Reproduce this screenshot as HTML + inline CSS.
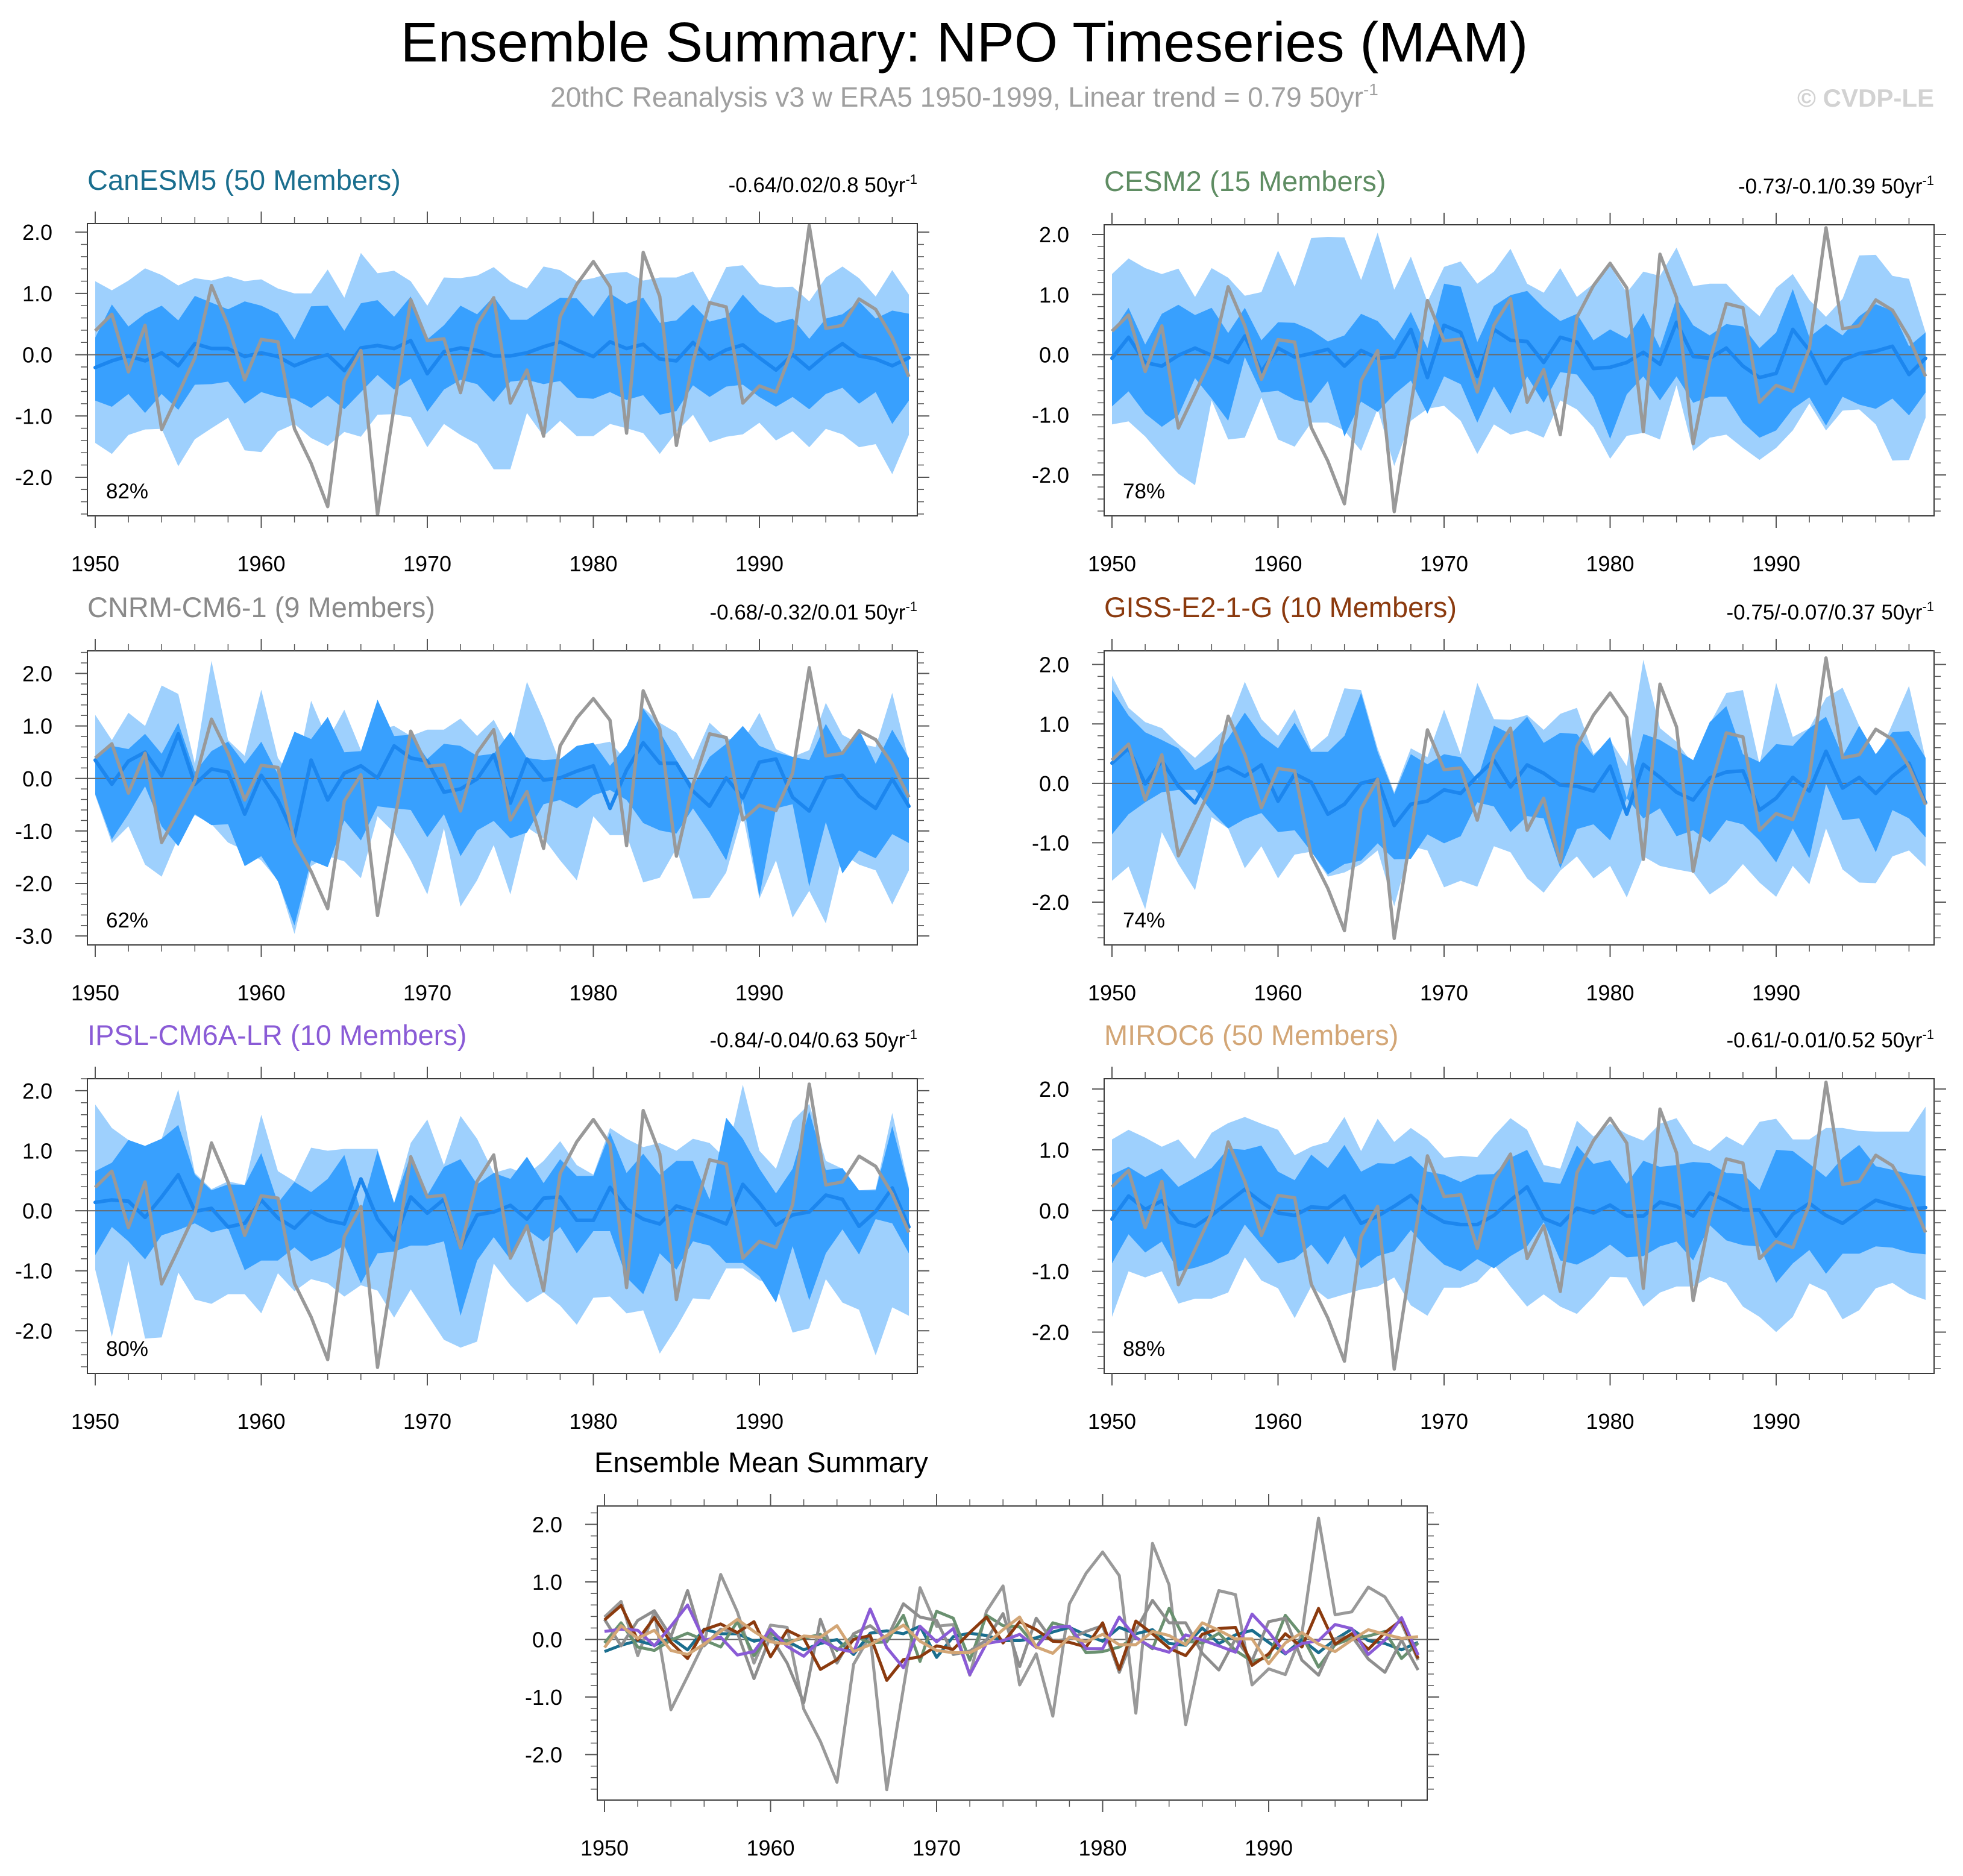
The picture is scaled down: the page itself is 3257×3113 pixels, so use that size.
<!DOCTYPE html>
<html>
<head>
<meta charset="utf-8">
<style>
html,body{margin:0;padding:0;background:#fff;}
svg{display:block;font-family:"Liberation Sans",Arial,sans-serif;}
</style>
</head>
<body>
<svg id="chart" width="3257" height="3113" viewBox="0 0 3257 3113" xmlns="http://www.w3.org/2000/svg">
  <rect x="0" y="0" width="3257" height="3113" fill="#ffffff"/>
  <text x="1600" y="102" text-anchor="middle" font-size="93" fill="#000">Ensemble Summary: NPO Timeseries (MAM)</text>
  <text x="1600" y="177" text-anchor="middle" font-size="46" fill="#a0a0a0">20thC Reanalysis v3 w ERA5 1950-1999, Linear trend = 0.79 50yr<tspan font-size="28" dy="-19">-1</tspan></text>
  <text x="3209" y="177" text-anchor="end" font-size="42" font-weight="bold" fill="#d2d2d2">© CVDP-LE</text>
  <g id="panels"></g>
</svg>
<script>
// ---------- data ----------
const startYear = 1950;
const endYear = 1999;
const years = [];
for (let y = startYear; y <= endYear; y++) years.push(y);

const obs = [0.39,0.66,-0.28,0.48,-1.22,-0.64,-0.05,1.13,0.48,-0.41,0.25,0.21,-1.21,-1.77,-2.48,-0.43,0.07,-2.61,-0.85,0.90,0.23,0.26,-0.62,0.49,0.93,-0.79,-0.25,-1.33,0.62,1.15,1.52,1.11,-1.28,1.67,0.95,-1.48,-0.11,0.85,0.78,-0.79,-0.51,-0.61,0.10,2.11,0.43,0.48,0.91,0.74,0.28,-0.36];

// CanESM5
const canMean = [-0.21,-0.10,-0.02,-0.10,0.03,-0.18,0.18,0.10,0.10,-0.03,0.03,-0.03,-0.18,-0.07,0.00,-0.26,0.11,0.15,0.10,0.23,-0.31,0.05,0.11,0.07,-0.02,-0.02,0.03,0.13,0.21,0.08,-0.03,0.21,0.10,0.17,-0.07,-0.10,0.20,-0.07,0.08,0.16,-0.05,-0.25,0.00,-0.23,0.00,0.18,-0.02,-0.07,-0.18,-0.05];
const canOutHi = [1.20,1.05,1.21,1.41,1.30,1.13,1.25,1.21,1.28,1.20,1.23,1.08,1.00,1.00,1.39,0.93,1.66,1.33,1.37,1.20,0.80,1.26,1.25,1.29,1.43,1.20,1.08,1.44,1.38,1.20,1.25,1.33,1.35,1.21,1.26,1.26,1.36,0.87,1.43,1.46,1.15,1.10,1.11,0.87,1.26,1.44,1.25,0.95,1.38,0.98];
const canInHi = [0.28,0.82,0.46,0.67,0.80,0.56,0.96,0.85,0.74,0.87,0.80,0.67,0.25,0.79,0.80,0.39,0.84,0.89,0.62,0.95,0.25,0.48,0.80,0.66,0.95,0.57,0.57,0.75,0.93,0.92,0.62,1.00,0.83,0.93,0.52,0.56,0.82,0.54,0.61,0.98,0.69,0.52,0.59,0.26,0.59,0.66,0.87,0.59,0.72,0.67];
const canInLo = [-0.75,-0.85,-0.64,-0.95,-0.64,-0.90,-0.49,-0.48,-0.44,-0.80,-0.61,-0.69,-0.72,-0.87,-0.67,-0.89,-0.61,-0.33,-0.57,-0.39,-0.93,-0.57,-0.41,-0.48,-0.77,-0.44,-0.41,-0.48,-0.43,-0.70,-0.72,-0.61,-0.74,-0.66,-0.98,-0.92,-0.50,-0.69,-0.52,-0.49,-0.69,-0.85,-0.69,-0.89,-0.64,-0.54,-0.80,-0.61,-1.13,-0.75];
const canOutLo = [-1.44,-1.62,-1.31,-1.22,-1.21,-1.82,-1.38,-1.20,-1.03,-1.56,-1.59,-1.25,-1.13,-1.36,-1.49,-1.26,-1.34,-0.98,-0.97,-1.02,-1.51,-1.13,-1.31,-1.46,-1.87,-1.87,-0.95,-1.33,-1.08,-1.33,-1.33,-1.13,-1.20,-1.28,-1.62,-1.26,-0.98,-1.43,-1.34,-1.30,-1.11,-1.40,-1.25,-1.51,-1.21,-1.30,-1.51,-1.46,-1.95,-1.31];

// CESM2
const cesmMean = [-0.06,0.29,-0.13,-0.19,-0.01,0.11,-0.01,-0.13,0.31,-0.28,0.11,-0.04,0.02,0.09,-0.19,0.07,-0.06,-0.04,0.42,-0.38,0.49,0.37,-0.36,0.42,0.24,0.22,-0.13,0.29,0.21,-0.23,-0.21,-0.13,0.04,-0.16,0.54,-0.03,-0.06,0.11,-0.19,-0.38,-0.31,0.42,0.07,-0.48,-0.09,0.02,0.06,0.14,-0.33,-0.06];
const cesmOutHi = [1.34,1.60,1.44,1.34,1.43,0.96,1.44,1.28,0.98,1.04,1.73,1.13,1.94,1.96,1.95,1.24,2.03,1.08,1.63,0.88,1.46,1.55,1.18,1.38,1.76,1.18,1.03,1.44,0.96,1.18,1.48,1.03,1.38,1.31,1.78,1.14,1.18,1.18,0.88,0.64,1.11,1.34,0.91,0.63,0.93,1.65,1.66,1.31,1.26,0.37];
const cesmInHi = [0.37,0.78,0.17,0.68,0.83,0.66,0.78,0.36,0.78,0.24,0.54,0.53,0.41,0.22,0.32,0.68,0.56,0.24,0.71,0.11,1.18,1.13,0.21,0.81,0.99,1.06,0.78,0.56,0.68,0.24,0.42,0.27,0.69,0.11,0.94,0.49,0.32,0.51,0.47,0.11,0.37,1.09,0.29,0.51,0.32,0.64,0.84,0.73,0.14,0.37];
const cesmInLo = [-0.86,-0.61,-0.98,-1.20,-1.01,-0.39,-0.73,-1.10,-0.04,-0.63,-0.60,-0.75,-0.80,-0.44,-1.36,-0.78,-0.95,-0.66,-0.43,-0.98,-0.36,-0.49,-1.13,-0.53,-0.98,-0.36,-0.80,-0.29,-0.33,-0.70,-1.40,-0.66,-0.36,-0.76,-0.36,-0.80,-0.70,-0.70,-1.13,-1.38,-1.26,-0.90,-0.71,-1.18,-0.70,-0.83,-0.90,-0.73,-1.01,-0.63];
const cesmOutLo = [-1.16,-1.11,-1.36,-1.68,-1.98,-2.17,-0.76,-1.41,-1.38,-0.71,-1.41,-1.53,-1.13,-1.13,-1.26,-1.60,-0.90,-1.85,-1.10,-0.90,-0.85,-1.10,-1.65,-1.16,-1.33,-1.26,-1.38,-0.76,-0.91,-1.21,-1.73,-1.35,-1.30,-1.41,-0.51,-1.60,-1.38,-1.33,-1.55,-1.75,-1.55,-1.26,-0.81,-1.26,-0.93,-0.91,-1.16,-1.76,-1.75,-1.05];

// CNRM-CM6-1
const cnrmMean = [0.35,-0.11,0.33,0.50,0.05,0.85,-0.11,0.18,0.12,-0.68,0.06,-0.41,-1.10,0.35,-0.41,0.10,0.24,0.01,0.62,0.39,0.33,-0.26,-0.20,-0.01,0.45,-0.47,0.37,-0.03,0.01,0.14,0.24,-0.57,0.16,0.68,0.29,0.29,-0.24,-0.53,0.01,-0.37,0.31,0.37,-0.36,-0.62,0.01,0.06,-0.34,-0.57,-0.01,-0.53];
const cnrmOutHi = [1.21,0.73,1.25,1.00,1.77,1.61,0.28,2.24,0.73,0.43,1.69,0.39,-0.03,1.48,0.73,1.31,0.54,0.93,1.00,0.81,0.93,0.93,1.14,0.81,1.12,0.52,1.84,1.12,0.29,0.62,0.64,0.70,0.33,1.35,1.06,0.87,0.35,1.06,0.77,0.70,1.25,0.56,0.41,0.54,1.44,0.83,0.66,0.60,1.63,0.33];
const cnrmInHi = [0.41,0.62,0.56,0.85,0.47,1.06,0.12,0.52,0.70,0.28,0.70,0.08,0.89,0.75,1.17,0.50,0.52,1.50,0.81,0.83,0.37,0.66,0.62,0.43,0.47,0.89,0.39,0.35,0.37,0.62,0.68,0.24,0.62,1.33,0.89,0.35,-0.15,0.41,0.66,1.00,0.62,0.50,0.41,0.35,1.04,0.49,0.93,0.28,0.93,0.39];
const cnrmInLo = [-0.30,-1.16,-0.68,-0.15,-0.91,-1.29,-0.68,-0.89,-0.87,-1.67,-1.48,-1.96,-2.80,-1.56,-1.69,-0.80,-1.18,-0.53,-0.57,-0.60,-1.12,-0.68,-1.48,-0.99,-0.81,-1.14,-1.03,-0.49,-0.41,-0.57,-0.32,-0.22,-0.41,-0.85,-0.99,-1.05,-0.57,-1.03,-1.56,-0.41,-2.25,-0.57,-0.49,-2.06,-0.83,-1.81,-1.37,-1.52,-1.06,-1.23];
const cnrmOutLo = [-0.32,-1.23,-0.91,-1.64,-1.87,-1.12,-0.70,-0.87,-1.22,-1.37,-1.56,-1.94,-2.96,-1.67,-1.48,-1.58,-1.90,-0.72,-1.03,-1.56,-2.21,-0.95,-2.44,-1.94,-1.27,-2.21,-0.93,-1.14,-1.56,-1.94,-0.72,-1.08,-1.08,-1.98,-1.89,-1.33,-2.29,-2.27,-1.79,-0.68,-2.29,-1.56,-2.65,-2.14,-2.76,-1.44,-1.64,-1.75,-2.40,-1.75];

// GISS-E2-1-G
const gissMean = [0.34,0.59,-0.01,0.38,-0.05,-0.33,0.17,0.27,0.12,0.31,-0.30,0.16,0.02,-0.52,-0.35,0.00,0.07,-0.71,-0.35,-0.30,-0.11,-0.17,0.12,0.39,-0.06,0.31,0.17,-0.03,-0.05,-0.13,0.29,-0.52,0.32,0.10,-0.15,-0.28,0.09,0.19,0.21,-0.45,-0.25,0.10,-0.13,0.54,-0.08,0.10,-0.17,0.12,0.34,-0.33];
const gissOutHi = [1.81,1.27,1.03,0.93,0.66,0.43,0.70,0.97,1.71,1.08,0.80,1.25,0.56,0.80,1.60,1.57,0.59,-0.15,0.59,0.44,1.24,0.49,1.69,1.08,1.07,1.15,0.90,1.17,1.27,0.49,0.73,0.29,2.08,0.93,0.70,0.32,1.00,1.52,1.57,0.32,1.69,0.78,0.93,1.44,1.61,0.97,0.36,1.00,1.64,0.41];
const gissInHi = [1.57,1.14,0.86,0.73,0.59,0.22,0.39,0.76,1.19,0.80,0.59,1.02,0.53,0.53,0.80,1.52,0.53,-0.18,0.49,0.32,0.49,0.44,0.05,0.97,0.83,1.12,0.68,0.85,0.83,0.46,0.78,-0.25,0.83,0.73,0.56,0.39,1.03,1.30,0.49,0.36,0.66,0.63,0.93,1.12,0.46,0.97,0.49,0.86,0.88,0.43];
const gissInLo = [-0.86,-0.52,-0.32,-0.15,-0.11,-0.11,-0.47,-0.76,-0.60,-0.50,-0.82,-0.79,-1.15,-1.53,-1.36,-1.30,-1.01,-1.28,-1.27,-0.86,-1.01,-0.89,-0.32,-0.39,-0.82,-0.55,-0.59,-1.43,-0.77,-0.69,-0.96,-0.25,-0.59,-0.42,-0.89,-0.79,-0.99,-0.62,-0.69,-0.96,-1.33,-0.76,-1.26,-0.01,-0.62,-0.59,-1.16,-0.45,-0.59,-0.91];
const gissOutLo = [-1.64,-1.40,-2.12,-0.82,-1.36,-1.80,-0.57,-0.76,-1.43,-1.06,-1.60,-1.20,-1.15,-1.57,-1.50,-1.36,-1.13,-2.07,-1.06,-1.13,-1.75,-1.64,-1.74,-1.06,-1.16,-1.60,-1.84,-1.47,-1.23,-1.60,-1.39,-1.92,-1.23,-1.39,-1.45,-1.50,-1.87,-1.68,-1.36,-1.67,-1.91,-1.39,-1.70,-0.76,-1.45,-1.67,-1.68,-1.23,-1.13,-1.40];

// IPSL-CM6A-LR
const ipslMean = [0.14,0.18,0.16,-0.11,0.23,0.60,-0.01,0.04,-0.27,-0.21,0.18,-0.12,-0.29,-0.01,-0.16,-0.22,0.53,-0.14,-0.49,0.23,-0.04,0.19,-0.61,-0.07,-0.02,0.09,-0.14,0.21,0.23,-0.16,-0.16,0.39,0.03,-0.14,-0.22,0.08,-0.01,-0.11,-0.22,0.44,0.13,-0.24,-0.07,-0.02,0.26,0.19,-0.26,-0.01,0.38,-0.27];
const ipslOutHi = [1.77,1.38,1.18,1.08,1.20,2.02,0.63,0.36,0.49,0.43,1.60,0.66,0.49,1.05,1.00,1.03,1.03,1.03,0.13,1.13,1.52,0.76,1.58,1.20,0.63,0.71,0.60,0.83,1.16,0.76,0.60,1.38,1.20,1.06,1.13,1.00,1.20,1.13,0.86,2.10,1.00,0.70,1.50,1.78,0.83,0.70,0.34,0.36,1.63,0.39];
const ipslInHi = [0.66,0.80,1.18,1.08,1.20,1.43,0.60,0.34,0.44,0.43,0.96,0.13,0.48,0.31,0.53,0.93,-0.01,1.00,0.13,0.93,0.26,0.73,0.86,0.44,0.63,0.53,0.90,0.46,0.86,0.58,0.58,1.30,0.63,0.95,0.60,0.83,0.83,0.19,1.55,1.20,0.70,0.29,0.70,1.66,0.68,0.71,0.34,0.34,1.41,0.36];
const ipslInLo = [-0.74,-0.27,-0.51,-0.81,-0.41,-0.32,-0.21,-0.36,-0.29,-0.99,-0.83,-0.83,-0.61,-0.84,-0.74,-0.58,-1.21,-0.71,-0.68,-0.58,-0.58,-0.51,-1.75,-0.83,-0.44,-0.81,-0.31,-0.51,-0.27,-0.71,-0.34,-0.34,-1.11,-1.39,-0.71,-0.98,-0.51,-0.58,-0.87,-0.87,-1.09,-1.53,-0.59,-1.49,-0.71,-0.31,-0.73,-0.14,-0.21,-0.71];
const ipslOutLo = [-0.98,-2.10,-0.84,-2.13,-2.11,-1.03,-1.48,-1.55,-1.39,-1.39,-1.71,-1.04,-1.34,-1.14,-1.21,-1.43,-1.24,-1.33,-1.78,-1.31,-1.73,-2.15,-2.28,-2.18,-0.88,-1.24,-1.53,-1.36,-1.58,-1.90,-1.45,-1.43,-1.71,-1.66,-2.38,-1.95,-1.46,-1.48,-0.96,-0.96,-1.16,-1.23,-2.03,-1.96,-1.14,-1.53,-1.65,-2.41,-1.61,-1.75];

// MIROC6
const mirocMean = [-0.14,0.24,0.02,0.16,-0.19,-0.26,-0.08,0.14,0.35,0.14,-0.04,-0.08,0.06,0.04,0.24,-0.21,-0.09,0.07,0.25,-0.03,-0.19,-0.23,-0.23,-0.08,0.17,0.39,-0.13,-0.24,0.04,-0.04,0.09,-0.09,-0.09,0.14,0.07,-0.09,0.29,0.16,0.01,0.01,-0.42,-0.06,0.12,-0.08,-0.21,-0.01,0.17,0.09,0.02,0.05];
const mirocOutHi = [1.17,1.33,1.20,1.05,1.17,0.85,1.28,1.44,1.54,1.43,1.33,0.91,1.05,1.13,1.54,0.98,1.51,1.13,1.36,1.17,0.87,0.90,0.88,1.23,1.52,1.33,0.75,0.69,1.48,1.22,1.43,1.26,1.15,1.43,1.52,1.10,0.98,1.22,1.07,1.46,1.51,1.17,1.17,1.36,1.36,1.31,1.30,1.30,1.30,1.71];
const mirocInHi = [0.59,0.72,0.55,0.69,0.39,0.54,0.70,1.02,1.00,1.07,0.64,0.50,0.92,0.70,1.08,0.64,0.78,0.77,0.90,0.64,0.59,0.47,0.59,0.60,0.87,1.00,0.47,0.44,1.07,0.77,0.83,0.44,0.82,0.72,0.75,0.80,0.78,0.62,0.60,0.34,1.00,0.98,0.77,0.55,0.87,1.08,0.73,0.67,0.60,0.57];
const mirocInLo = [-0.87,-0.39,-0.69,-0.51,-1.00,-0.94,-0.85,-0.71,-0.23,-0.56,-0.87,-0.80,-0.56,-0.89,-0.42,-0.95,-0.75,-0.67,-0.32,-0.64,-0.89,-1.00,-0.80,-0.95,-0.75,-0.59,-0.19,-0.82,-0.89,-0.75,-0.56,-0.77,-0.75,-0.59,-0.51,-0.82,-0.24,-0.49,-0.57,-0.59,-1.19,-0.87,-0.65,-1.04,-0.71,-0.71,-0.59,-0.61,-0.69,-0.72];
const mirocOutLo = [-1.75,-1.00,-1.10,-1.00,-1.53,-1.45,-1.45,-1.35,-0.77,-1.15,-1.28,-1.77,-1.25,-1.46,-1.38,-1.30,-1.25,-1.10,-1.56,-1.73,-1.27,-1.27,-1.17,-0.89,-1.25,-1.58,-1.38,-1.58,-1.70,-1.42,-1.09,-1.10,-1.58,-1.35,-1.25,-1.25,-1.09,-1.19,-1.58,-1.75,-2.00,-1.75,-1.20,-1.33,-1.79,-1.64,-1.28,-1.19,-1.37,-1.47];

// ---------- drawing ----------
const NS = 'http://www.w3.org/2000/svg';
const root = document.getElementById('panels');
const YEAR_PX = 27.55;

function mk(tag, attrs, parent) {
  const e = document.createElementNS(NS, tag);
  for (const k in attrs) e.setAttribute(k, attrs[k]);
  (parent || root).appendChild(e);
  return e;
}
function pts(xs, ys) { return xs.map((x, i) => x.toFixed(1) + ',' + ys[i].toFixed(1)).join(' '); }

function drawAxes(g, P, xScale, yScale) {
  const b = P.box;
  const border = mk('rect', {x: b.x, y: b.y, width: b.w, height: b.h, fill: 'none', stroke: '#3a3a3a', 'stroke-width': 2}, g);
  
  
  const lo = Math.ceil(P.yMin * 5), hi = Math.floor(P.yMax * 5);
  for (let k = lo; k <= hi; k++) {
    const v = k / 5, yy = yScale(v), major = (k % 5 === 0);
    const len = major ? 20 : 11;
    const t1 = mk('line', {x1: b.x - len, x2: b.x, y1: yy, y2: yy, stroke: '#555', 'stroke-width': major ? 2 : 1.5}, g);
    
    
    const t2 = mk('line', {x1: b.x + b.w, x2: b.x + b.w + len, y1: yy, y2: yy, stroke: '#555', 'stroke-width': major ? 2 : 1.5}, g);
    
    
    if (major) {
      const lab = mk('text', {x: b.x - 58, y: yy + 13, 'text-anchor': 'end', 'font-size': 36, fill: '#000'}, g);
      lab.textContent = v.toFixed(1);
      
      
    }
  }
  for (let yr = startYear; yr <= endYear; yr += 2) {
    const xx = xScale(yr), major = ((yr - startYear) % 10 === 0);
    const len = major ? 20 : 11;
    const tb = mk('line', {x1: xx, x2: xx, y1: b.y + b.h, y2: b.y + b.h + len, stroke: '#555', 'stroke-width': major ? 2 : 1.5}, g);
    
    
    const tt = mk('line', {x1: xx, x2: xx, y1: b.y - len, y2: b.y, stroke: '#555', 'stroke-width': major ? 2 : 1.5}, g);
    
    
    if (major) {
      const lab = mk('text', {x: xx, y: b.y + b.h + 92, 'text-anchor': 'middle', 'font-size': 36, fill: '#000'}, g);
      lab.textContent = String(yr);
      
      
    }
  }
}

function makePanel(P) {
  const g = mk('g', {});
  
  
  const b = P.box;
  const xScale = yr => P.x0 + (yr - startYear) * YEAR_PX;
  const yScale = v => b.y + (P.yMax - v) / (P.yMax - P.yMin) * b.h;
  const xs = years.map(xScale);
  const xsRev = xs.slice().reverse();
  const clipId = 'clip-' + P.id;
  const cp = mk('clipPath', {id: clipId}, g);
  mk('rect', {x: b.x, y: b.y, width: b.w, height: b.h}, cp);
  const plot = mk('g', {'clip-path': 'url(#' + clipId + ')'}, g);
  
  

  const outer = mk('polygon', {points: pts(xs.concat(xsRev), P.outHi.map(yScale).concat(P.outLo.map(yScale).reverse())), fill: '#9ed0fd'}, plot);
  
  
  const inner = mk('polygon', {points: pts(xs.concat(xsRev), P.inHi.map(yScale).concat(P.inLo.map(yScale).reverse())), fill: '#38a0fe'}, plot);
  
  
  const zero = mk('line', {x1: b.x, x2: b.x + b.w, y1: yScale(0), y2: yScale(0), stroke: '#6a6a6a', 'stroke-width': 2}, plot);
  
  
  const ml = mk('polyline', {points: pts(xs, P.mean.map(yScale)), fill: 'none', stroke: '#1c86ee', 'stroke-width': 6, 'stroke-linejoin': 'round', 'stroke-linecap': 'round'}, plot);
  
  
  const ol = mk('polyline', {points: pts(xs, obs.map(yScale)), fill: 'none', stroke: '#999999', 'stroke-width': 5.5, 'stroke-linejoin': 'round'}, plot);
  
  

  drawAxes(g, P, xScale, yScale);

  const title = mk('text', {x: b.x, y: b.y - 56, 'font-size': 47, fill: P.color}, g);
  title.textContent = P.title;
  
  
  const stat = mk('text', {x: b.x + b.w, y: b.y - 52, 'text-anchor': 'end', 'font-size': 35, fill: '#000'}, g);
  stat.textContent = P.stat + ' 50yr';
  const sup = mk('tspan', {'font-size': 22, dy: -14}, stat);
  sup.textContent = '-1';
  
  
  const pct = mk('text', {x: b.x + 31, y: b.y + b.h - 29, 'font-size': 35, fill: '#000'}, g);
  pct.textContent = P.pct;
  
  
}

const L = {x: 145, w: 1377, x0: 158};
const R = {x: 1832, w: 1377, x0: 1845};
makePanel({id: 'canesm5', title: 'CanESM5 (50 Members)', color: '#1a6e8e', stat: '-0.64/0.02/0.8', pct: '82%',
  box: {x: L.x, y: 371, w: L.w, h: 485}, x0: L.x0, yMin: -2.63, yMax: 2.14,
  mean: canMean, outHi: canOutHi, inHi: canInHi, inLo: canInLo, outLo: canOutLo});
makePanel({id: 'cesm2', title: 'CESM2 (15 Members)', color: '#5f8d63', stat: '-0.73/-0.1/0.39', pct: '78%',
  box: {x: R.x, y: 373, w: R.w, h: 483}, x0: R.x0, yMin: -2.68, yMax: 2.16,
  mean: cesmMean, outHi: cesmOutHi, inHi: cesmInHi, inLo: cesmInLo, outLo: cesmOutLo});
makePanel({id: 'cnrm', title: 'CNRM-CM6-1 (9 Members)', color: '#8a8a8a', stat: '-0.68/-0.32/0.01', pct: '62%',
  box: {x: L.x, y: 1080, w: L.w, h: 488}, x0: L.x0, yMin: -3.17, yMax: 2.43,
  mean: cnrmMean, outHi: cnrmOutHi, inHi: cnrmInHi, inLo: cnrmInLo, outLo: cnrmOutLo});
makePanel({id: 'giss', title: 'GISS-E2-1-G (10 Members)', color: '#8b3a0e', stat: '-0.75/-0.07/0.37', pct: '74%',
  box: {x: R.x, y: 1080, w: R.w, h: 488}, x0: R.x0, yMin: -2.72, yMax: 2.23,
  mean: gissMean, outHi: gissOutHi, inHi: gissInHi, inLo: gissInLo, outLo: gissOutLo});
makePanel({id: 'ipsl', title: 'IPSL-CM6A-LR (10 Members)', color: '#8a5bd6', stat: '-0.84/-0.04/0.63', pct: '80%',
  box: {x: L.x, y: 1790, w: L.w, h: 489}, x0: L.x0, yMin: -2.71, yMax: 2.20,
  mean: ipslMean, outHi: ipslOutHi, inHi: ipslInHi, inLo: ipslInLo, outLo: ipslOutLo});
makePanel({id: 'miroc6', title: 'MIROC6 (50 Members)', color: '#d3a676', stat: '-0.61/-0.01/0.52', pct: '88%',
  box: {x: R.x, y: 1790, w: R.w, h: 489}, x0: R.x0, yMin: -2.68, yMax: 2.17,
  mean: mirocMean, outHi: mirocOutHi, inHi: mirocInHi, inLo: mirocInLo, outLo: mirocOutLo});

(function () {
  const P = {id: 'summary', box: {x: 991, y: 2499, w: 1377, h: 488}, x0: 1003, yMin: -2.79, yMax: 2.32};
  const b = P.box;
  const xScale = yr => P.x0 + (yr - startYear) * YEAR_PX;
  const yScale = v => b.y + (P.yMax - v) / (P.yMax - P.yMin) * b.h;
  const g = mk('g', {});
  
  
  const xs = years.map(xScale);
  const cp = mk('clipPath', {id: 'clip-summary'}, g);
  mk('rect', {x: b.x, y: b.y, width: b.w, height: b.h}, cp);
  const plot = mk('g', {'clip-path': 'url(#clip-summary)'}, g);
  
  
  const zero = mk('line', {x1: b.x, x2: b.x + b.w, y1: yScale(0), y2: yScale(0), stroke: '#6a6a6a', 'stroke-width': 2}, plot);
  
  
  const ol = mk('polyline', {points: pts(xs, obs.map(yScale)), fill: 'none', stroke: '#999999', 'stroke-width': 5, 'stroke-linejoin': 'round'}, plot);
  
  
  const series = [
    {name: 'canesm5-mean-line', data: canMean, color: '#1a6e8e'},
    {name: 'cesm2-mean-line', data: cesmMean, color: '#6a9170'},
    {name: 'cnrm-mean-line', data: cnrmMean, color: '#8e8e8e'},
    {name: 'giss-mean-line', data: gissMean, color: '#8b3a0e'},
    {name: 'ipsl-mean-line', data: ipslMean, color: '#8a5bd6'},
    {name: 'miroc6-mean-line', data: mirocMean, color: '#d3a676'}
  ];
  series.forEach(s => {
    const pl = mk('polyline', {points: pts(xs, s.data.map(yScale)), fill: 'none', stroke: s.color, 'stroke-width': 5, 'stroke-linejoin': 'round'}, plot);
    
    
  });
  drawAxes(g, P, xScale, yScale);
  const title = mk('text', {x: 986, y: 2443, 'font-size': 47, fill: '#000'}, g);
  title.textContent = 'Ensemble Mean Summary';
  
  
})();
</script>
</body>
</html>
